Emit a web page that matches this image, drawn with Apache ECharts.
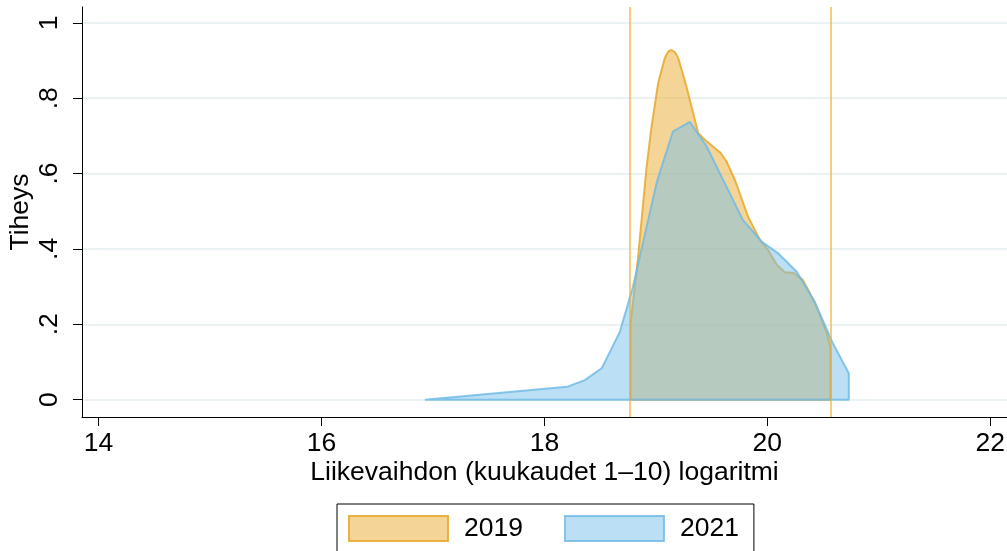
<!DOCTYPE html>
<html>
<head>
<meta charset="utf-8">
<script src="https://cdn.jsdelivr.net/npm/echarts@6/dist/echarts.min.js"></script>
<style>
html,body{margin:0;padding:0;background:#fff;}
#chart{width:1007px;height:551px;}
</style>
</head>
<body>
<div id="chart"></div>
<script>
// ---- data ----
const xTicks = [14, 16, 18, 20, 22];
const yTicks = [0, 0.2, 0.4, 0.6, 0.8, 1];
const yTickLabels = ['0', '.2', '.4', '.6', '.8', '1'];

const x2019 = [18.773, 18.773, 18.841, 18.917, 18.961, 19.021, 19.081, 19.111, 19.141, 19.171, 19.200, 19.275, 19.379, 19.439, 19.514, 19.580, 19.634, 19.709, 19.828, 19.933, 20.005, 20.085, 20.157, 20.238, 20.318, 20.426, 20.534, 20.567, 20.567];
const d2019 = [0, 0.199, 0.379, 0.618, 0.724, 0.841, 0.907, 0.924, 0.928, 0.922, 0.907, 0.830, 0.708, 0.690, 0.671, 0.655, 0.632, 0.583, 0.485, 0.424, 0.398, 0.358, 0.338, 0.336, 0.318, 0.257, 0.177, 0.137, 0];

const x2021 = [16.928, 18.202, 18.363, 18.516, 18.677, 18.794, 19.009, 19.152, 19.305, 19.457, 19.780, 19.951, 20.094, 20.265, 20.426, 20.587, 20.731, 20.731];
const d2021 = [0, 0.034, 0.052, 0.084, 0.180, 0.299, 0.578, 0.711, 0.737, 0.671, 0.477, 0.419, 0.389, 0.339, 0.259, 0.150, 0.070, 0];

const refLines = [18.767, 20.570];

const seriesNames = ['2019', '2021'];
const xTitle = 'Liikevaihdon (kuukaudet 1–10) logaritmi';
const yTitle = 'Tiheys';

// ---- build ----
function closed(xs, ys) {
  const pts = xs.map((x, i) => [x, ys[i]]);
  pts.push([xs[0], ys[0]]);
  return pts;
}

const ORANGE_FILL = 'rgba(235,171,47,0.5)';
const ORANGE_LINE = 'rgba(232,170,45,0.88)';
const BLUE_FILL = 'rgba(119,191,233,0.5)';
const BLUE_LINE = 'rgba(110,185,230,0.82)';
const FONT = 'Liberation Sans, Arial, sans-serif';
const FS = 26.5;

const chart = echarts.init(document.getElementById('chart'), null, {renderer: 'canvas'});
chart.setOption({
  animation: false,
  backgroundColor: '#fff',
  grid: {left: 82, right: 0, top: 7, bottom: 134, containLabel: false, outerBoundsMode: 'none'},
  xAxis: {
    type: 'value', min: 13.852, max: 22.15,
    axisLine: {show: true, onZero: false, lineStyle: {color: '#000', width: 1}},
    axisTick: {show: true, length: 9, customValues: xTicks, lineStyle: {color: '#000'}},
    axisLabel: {customValues: xTicks, fontSize: FS, color: '#000', fontFamily: FONT, margin: 13},
    splitLine: {show: false},
    name: xTitle, nameLocation: 'middle', nameGap: 42, nameMoveOverlap: false,
    nameTextStyle: {fontSize: FS, color: '#000', fontFamily: FONT}
  },
  yAxis: {
    type: 'value', min: -0.046, max: 1.042,
    axisLine: {show: true, onZero: false, lineStyle: {color: '#000', width: 1}},
    axisTick: {show: true, length: 9, customValues: yTicks, lineStyle: {color: '#000'}},
    axisLabel: {
      customValues: yTicks, rotate: 90, fontSize: FS, color: '#000', fontFamily: FONT, margin: 19,
      formatter: v => { const i = yTicks.findIndex(t => Math.abs(t - v) < 1e-6); return i >= 0 ? yTickLabels[i] : ''; }
    },
    splitLine: {show: true, lineStyle: {color: '#eaf2f3', width: 2}},
    name: yTitle, nameLocation: 'middle', nameGap: 48, nameRotate: 90, nameMoveOverlap: false,
    nameTextStyle: {fontSize: FS, color: '#000', fontFamily: FONT}
  },
  legend: {
    left: 337, top: 504,
    orient: 'horizontal',
    padding: [11, 15, 11, 11],
    borderColor: '#000', borderWidth: 1,
    itemWidth: 99, itemHeight: 25, itemGap: 41,
    textStyle: {fontSize: FS, color: '#000', fontFamily: FONT, padding: [0, 0, 0, 11]},
    data: [
      {name: seriesNames[0], icon: 'rect', itemStyle: {color: ORANGE_FILL, borderColor: ORANGE_LINE, borderWidth: 2}},
      {name: seriesNames[1], icon: 'rect', itemStyle: {color: BLUE_FILL, borderColor: BLUE_LINE, borderWidth: 2}}
    ]
  },
  series: [
    {
      name: seriesNames[0], type: 'line', data: closed(x2019, d2019),
      showSymbol: false, symbol: 'none', smooth: false,
      lineStyle: {color: ORANGE_LINE, width: 2},
      itemStyle: {color: ORANGE_FILL},
      areaStyle: {color: ORANGE_FILL, opacity: 1},
      z: 2
    },
    {
      name: seriesNames[1], type: 'line', data: closed(x2021, d2021),
      showSymbol: false, symbol: 'none', smooth: false,
      lineStyle: {color: BLUE_LINE, width: 2},
      itemStyle: {color: BLUE_FILL},
      areaStyle: {color: BLUE_FILL, opacity: 1},
      z: 3,
      markLine: {
        silent: true, symbol: ['none', 'none'], label: {show: false},
        lineStyle: {color: 'rgba(235,171,47,0.6)', width: 2, type: 'solid'},
        data: refLines.map(v => ({xAxis: v}))
      }
    }
  ]
});
</script>
</body>
</html>
